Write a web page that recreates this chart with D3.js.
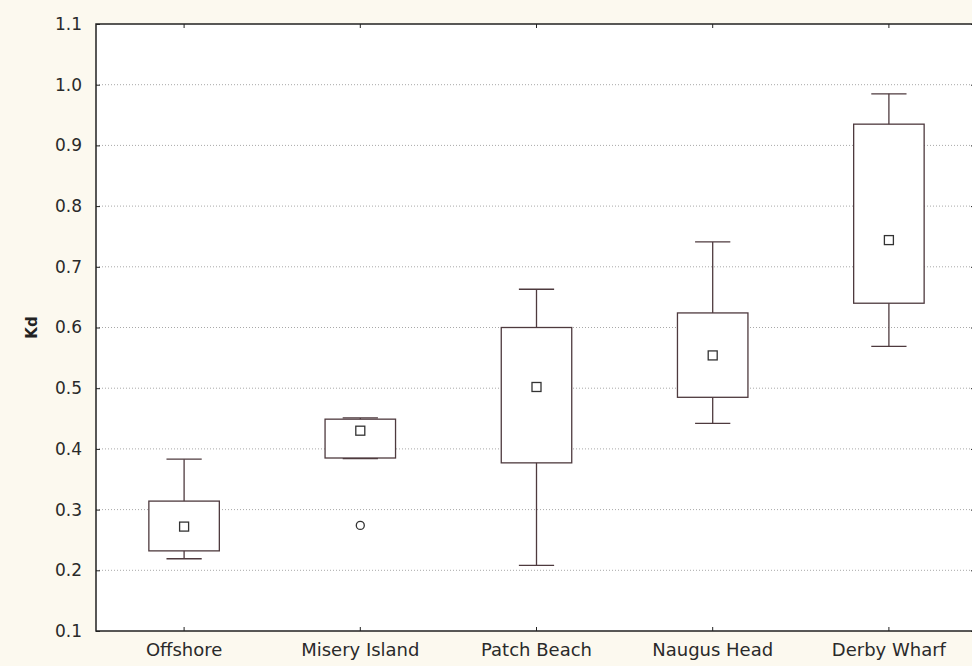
<!DOCTYPE html>
<html>
<head>
<meta charset="utf-8">
<script src="https://cdn.jsdelivr.net/npm/d3@7"></script>
<style>
  html, body { margin: 0; padding: 0; background: #fcf9ef; }
  svg { display: block; }
</style>
</head>
<body>
<div class="chart"></div>
<script>
// Kd par site
const categories = ["Offshore", "Misery Island", "Patch Beach", "Naugus Head", "Derby Wharf"];
const whiskerLow  = [0.219, 0.384, 0.208, 0.442, 0.569];
const boxLow      = [0.232, 0.385, 0.377, 0.485, 0.640];
const means       = [0.272, 0.430, 0.502, 0.554, 0.744];
const boxHigh     = [0.314, 0.449, 0.600, 0.624, 0.935];
const whiskerHigh = [0.383, 0.451, 0.663, 0.741, 0.985];
const outliers = [{ site: "Misery Island", value: 0.274 }];
const yTicks = [0.1, 0.2, 0.3, 0.4, 0.5, 0.6, 0.7, 0.8, 0.9, 1.0, 1.1];

const width = 972, height = 666;
const plotLeft = 96, plotTop = 24, plotRight = 977, plotBottom = 631;
const boxColor = "#4e3a3e";

const data = categories.map((c, i) => ({
  site: c, wl: whiskerLow[i], bl: boxLow[i], m: means[i], bh: boxHigh[i], wh: whiskerHigh[i]
}));

const svg = d3.create("svg")
  .attr("width", width)
  .attr("height", height)
  .style("background-color", "#fcf9ef");

const x = d3.scaleBand().domain(categories).range([plotLeft, plotRight]);
const y = d3.scaleLinear().domain([0.1, 1.1]).range([plotBottom, plotTop]);

// fond blanc de la zone du graphique
svg.append("rect")
  .attr("x", plotLeft).attr("y", plotTop)
  .attr("width", plotRight - plotLeft).attr("height", plotBottom - plotTop)
  .attr("fill", "#ffffff");

// grille pointillée
svg.append("g")
  .selectAll("line")
  .data(yTicks.slice(1, -1))
  .join("line")
  .attr("x1", plotLeft).attr("x2", plotRight)
  .attr("y1", d => y(d)).attr("y2", d => y(d))
  .attr("stroke", "#a8a8a8")
  .attr("stroke-width", 1)
  .attr("stroke-dasharray", "1,2");

const font = "DejaVu Sans, Liberation Sans, sans-serif";

// axes
const yAxis = d3.axisLeft(y).tickValues(yTicks).tickFormat(d3.format(".1f")).tickSize(-4).tickPadding(14);
const gy = svg.append("g").attr("transform", `translate(${plotLeft},0)`).call(yAxis);
gy.select(".domain").remove();
gy.selectAll("line").attr("stroke", "#222");
gy.selectAll("text").style("font-family", font).style("font-size", "17px").attr("fill", "#2a2a2a");

const gyR = svg.append("g").attr("transform", `translate(${plotRight},0)`)
  .call(d3.axisRight(y).tickValues(yTicks).tickSize(-6).tickFormat(""));
gyR.select(".domain").remove();
gyR.selectAll("line").attr("stroke", "#222");

const xAxis = d3.axisBottom(x).tickSize(-4).tickPadding(12);
const gx = svg.append("g").attr("transform", `translate(0,${plotBottom})`).call(xAxis);
gx.select(".domain").remove();
gx.selectAll("line").attr("stroke", "#222");
gx.selectAll("text").style("font-family", font).style("font-size", "18px").attr("fill", "#2a2a2a");

const gxT = svg.append("g").attr("transform", `translate(0,${plotTop})`)
  .call(d3.axisTop(x).tickSize(-4).tickFormat(""));
gxT.select(".domain").remove();
gxT.selectAll("line").attr("stroke", "#222");

// cadre
svg.append("path")
  .attr("d", `M${plotRight},${plotTop}H${plotLeft}V${plotBottom}H${plotRight}V${plotTop}`)
  .attr("fill", "none")
  .attr("stroke", "#222")
  .attr("stroke-width", 1.5);

// titre axe Y
svg.append("text")
  .attr("transform", `translate(37,${(plotTop + plotBottom) / 2}) rotate(-90)`)
  .attr("text-anchor", "middle")
  .style("font-family", font)
  .style("font-size", "15px")
  .style("font-weight", "bold")
  .attr("fill", "#222")
  .text("Kd");

// boîtes à moustaches
const bw = x.bandwidth() * 0.4;
const cw = bw / 2;
const g = svg.append("g").attr("stroke", boxColor).attr("stroke-width", 1.3);
const cx = d => x(d.site) + x.bandwidth() / 2;

g.selectAll(".wh").data(data).join("line")
  .attr("x1", cx).attr("x2", cx)
  .attr("y1", d => y(d.wl)).attr("y2", d => y(d.wh));

g.selectAll(".capL").data(data).join("line")
  .attr("x1", d => cx(d) - cw / 2).attr("x2", d => cx(d) + cw / 2)
  .attr("y1", d => y(d.wl)).attr("y2", d => y(d.wl));
g.selectAll(".capH").data(data).join("line")
  .attr("x1", d => cx(d) - cw / 2).attr("x2", d => cx(d) + cw / 2)
  .attr("y1", d => y(d.wh)).attr("y2", d => y(d.wh));

g.selectAll(".box").data(data).join("rect")
  .attr("x", d => cx(d) - bw / 2)
  .attr("y", d => y(d.bh))
  .attr("width", bw)
  .attr("height", d => y(d.bl) - y(d.bh))
  .attr("fill", "#ffffff");

// moyennes
g.selectAll(".mean").data(data).join("rect")
  .attr("x", d => cx(d) - 4.5)
  .attr("y", d => y(d.m) - 4.5)
  .attr("width", 9).attr("height", 9)
  .attr("fill", "#ffffff")
  .attr("stroke", "#333");

// valeurs extrêmes
g.selectAll(".out").data(outliers).join("circle")
  .attr("cx", d => x(d.site) + x.bandwidth() / 2)
  .attr("cy", d => y(d.value))
  .attr("r", 4)
  .attr("fill", "#ffffff")
  .attr("stroke", "#333");

document.querySelector(".chart").appendChild(svg.node());
</script>
</body>
</html>
